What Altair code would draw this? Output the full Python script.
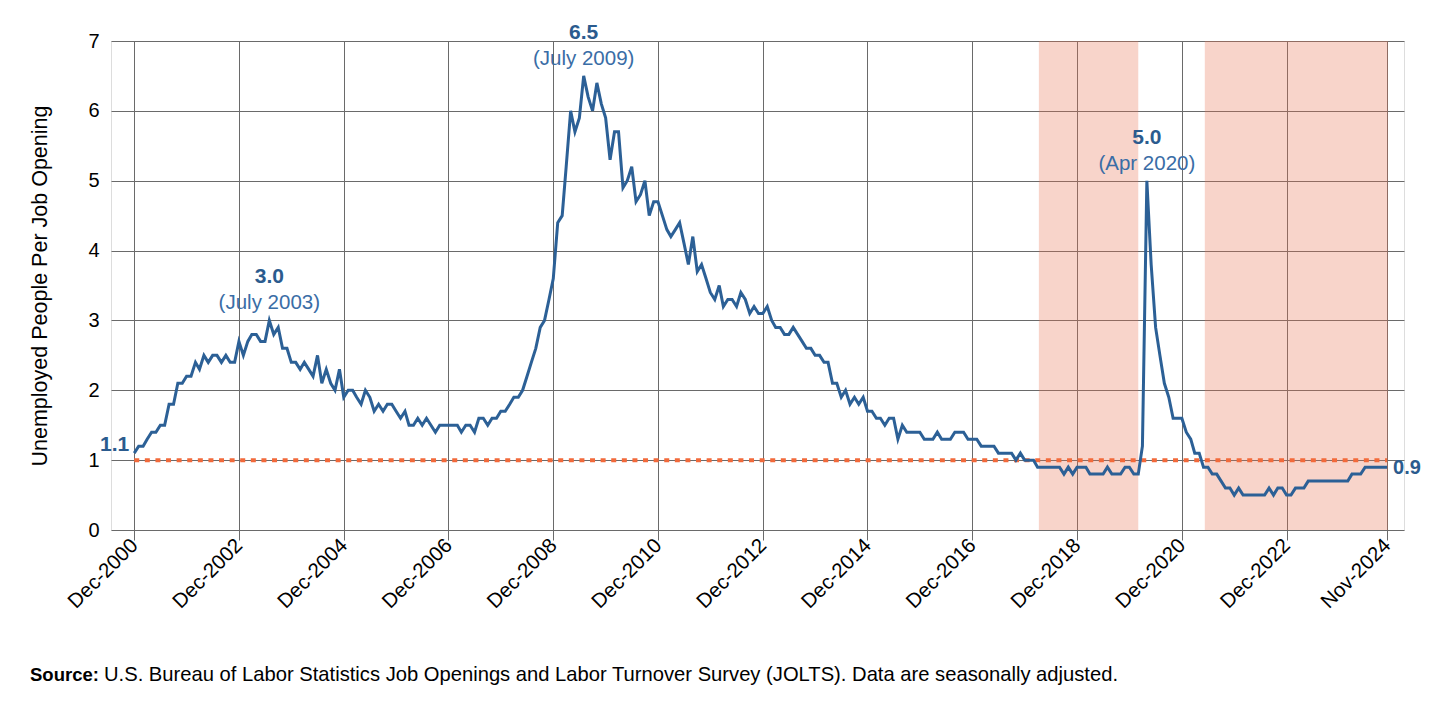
import altair as alt
import pandas as pd

# Monthly ratio, Dec-2000 .. Nov-2024 (unemployed people per job opening)
ratio = [
    1.1, 1.2, 1.2, 1.3, 1.4, 1.4, 1.5, 1.5, 1.8, 1.8, 2.1, 2.1,
    2.2, 2.2, 2.4, 2.3, 2.5, 2.4, 2.5, 2.5, 2.4, 2.5, 2.4, 2.4,
    2.7, 2.5, 2.7, 2.8, 2.8, 2.7, 2.7, 3.0, 2.8, 2.9, 2.6, 2.6,
    2.4, 2.4, 2.3, 2.4, 2.3, 2.2, 2.5, 2.1, 2.3, 2.1, 2.0, 2.3,
    1.9, 2.0, 2.0, 1.9, 1.8, 2.0, 1.9, 1.7, 1.8, 1.7, 1.8, 1.8,
    1.7, 1.6, 1.7, 1.5, 1.5, 1.6, 1.5, 1.6, 1.5, 1.4, 1.5, 1.5,
    1.5, 1.5, 1.5, 1.4, 1.5, 1.5, 1.4, 1.6, 1.6, 1.5, 1.6, 1.6,
    1.7, 1.7, 1.8, 1.9, 1.9, 2.0, 2.2, 2.4, 2.6, 2.9, 3.0, 3.3,
    3.6, 4.4, 4.5, 5.2, 6.0, 5.7, 5.9, 6.5, 6.2, 6.0, 6.4, 6.1,
    5.9, 5.3, 5.7, 5.7, 4.9, 5.0, 5.2, 4.7, 4.8, 5.0, 4.5, 4.7,
    4.7, 4.5, 4.3, 4.2, 4.3, 4.4, 4.1, 3.8, 4.2, 3.7, 3.8, 3.6,
    3.4, 3.3, 3.5, 3.2, 3.3, 3.3, 3.2, 3.4, 3.3, 3.1, 3.2, 3.1,
    3.1, 3.2, 3.0, 2.9, 2.9, 2.8, 2.8, 2.9, 2.8, 2.7, 2.6, 2.6,
    2.5, 2.5, 2.4, 2.4, 2.1, 2.1, 1.9, 2.0, 1.8, 1.9, 1.8, 1.9,
    1.7, 1.7, 1.6, 1.6, 1.5, 1.6, 1.6, 1.3, 1.5, 1.4, 1.4, 1.4,
    1.4, 1.3, 1.3, 1.3, 1.4, 1.3, 1.3, 1.3, 1.4, 1.4, 1.4, 1.3,
    1.3, 1.3, 1.2, 1.2, 1.2, 1.2, 1.1, 1.1, 1.1, 1.1, 1.0, 1.1,
    1.0, 1.0, 1.0, 0.9, 0.9, 0.9, 0.9, 0.9, 0.9, 0.8, 0.9, 0.8,
    0.9, 0.9, 0.9, 0.8, 0.8, 0.8, 0.8, 0.9, 0.8, 0.8, 0.8, 0.9,
    0.9, 0.8, 0.8, 1.2, 5.0, 3.8, 2.9, 2.5, 2.1, 1.9, 1.6, 1.6,
    1.6, 1.4, 1.3, 1.1, 1.1, 0.9, 0.9, 0.8, 0.8, 0.7, 0.6, 0.6,
    0.5, 0.6, 0.5, 0.5, 0.5, 0.5, 0.5, 0.5, 0.6, 0.5, 0.6, 0.6,
    0.5, 0.5, 0.6, 0.6, 0.6, 0.7, 0.7, 0.7, 0.7, 0.7, 0.7, 0.7,
    0.7, 0.7, 0.7, 0.8, 0.8, 0.8, 0.9, 0.9, 0.9, 0.9, 0.9, 0.9,
]
dates = pd.date_range("2000-12-01", periods=len(ratio), freq="MS").strftime("%Y-%m-%d").tolist()

tick_dates = ["2000-12-01", "2002-12-01", "2004-12-01", "2006-12-01", "2008-12-01",
              "2010-12-01", "2012-12-01", "2014-12-01", "2016-12-01", "2018-12-01",
              "2020-12-01", "2022-12-01", "2024-11-01"]

band_starts = ["2018-03-10", "2021-05-10"]
band_ends = ["2020-02-01", "2024-11-07"]

peak_dates = ["2003-07-01", "2009-07-01", "2020-04-01"]
peak_values = [3.0, 6.5, 5.0]
peak_numbers = ["3.0", "6.5", "5.0"]
peak_months = ["(July 2003)", "(July 2009)", "(Apr 2020)"]

end_dates = ["2000-12-01", "2024-11-01"]
end_values = [1.1, 0.9]
end_labels = ["1.1", "0.9"]

source_bold = "Source:"
source_text = ("U.S. Bureau of Labor Statistics Job Openings and Labor Turnover Survey (JOLTS). "
               "Data are seasonally adjusted.")

def ms(d):
    return int(pd.Timestamp(d, tz="UTC").timestamp() * 1000)

FONT = "Liberation Sans"
LINE = "#2C6096"
BOLD_BLUE = "#2B5B8E"
SUB_BLUE = "#3A6DA6"
ORANGE = "#F26A3B"
GRID = "#6A6A6A"

df = pd.DataFrame({"date": dates, "ratio": ratio})
bands = pd.DataFrame({"start": band_starts, "end": band_ends})
peaks = pd.DataFrame({"date": peak_dates, "value": peak_values,
                      "num": peak_numbers, "month": peak_months})
ref = pd.DataFrame({"start": [dates[0]], "end": [dates[-1]], "y": [1.0]})

xscale = alt.Scale(type="utc", domain=[ms("2000-06-22"), ms("2025-02-27")])
xaxis = alt.Axis(values=[ms(d) for d in tick_dates],
                 labelExpr="utcFormat(datum.value, '%b-%Y')",
                 grid=True, gridColor=GRID, gridWidth=1,
                 ticks=True, tickSize=10, tickColor=GRID, tickWidth=1,
                 domain=False, labelAngle=315, labelAlign="right", labelBaseline="middle",
                 labelPadding=2, labelFontSize=20.5, labelColor="#000000",
                 labelFont=FONT, title=None, labelOverlap=False)
yaxis = alt.Axis(values=[0, 1, 2, 3, 4, 5, 6, 7], format="d",
                 grid=True, gridColor=GRID, gridWidth=1,
                 ticks=False, domain=False, labelPadding=12, labelFontSize=20,
                 labelColor="#000000", labelFont=FONT,
                 title="Unemployed People Per Job Opening", titleFontSize=21.5,
                 titleFontWeight="normal", titleFont=FONT, titleColor="#000000",
                 titlePadding=36)
yscale = alt.Scale(domain=[0, 7], nice=False)

shade = alt.Chart(bands).mark_rect(color="#E8704F", opacity=0.3).encode(
    x=alt.X("start:T", scale=xscale, axis=xaxis),
    x2="end:T",
)

refline = alt.Chart(ref).mark_rule(color=ORANGE, strokeWidth=4, strokeDash=[5, 5.6]).encode(
    x=alt.X("start:T", scale=xscale, axis=xaxis),
    x2="end:T",
    y=alt.Y("y:Q", scale=yscale, axis=yaxis),
)

line = alt.Chart(df).mark_line(color=LINE, strokeWidth=3).encode(
    x=alt.X("date:T", scale=xscale, axis=xaxis),
    y=alt.Y("ratio:Q", scale=yscale, axis=yaxis),
)

peak_num = alt.Chart(peaks).mark_text(font=FONT, fontSize=21, fontWeight="bold",
                                      color=BOLD_BLUE, dy=-43, baseline="middle").encode(
    x="date:T", y="value:Q", text="num:N")
peak_mon = alt.Chart(peaks).mark_text(font=FONT, fontSize=20.5, color=SUB_BLUE,
                                      dy=-17, baseline="middle").encode(
    x="date:T", y="value:Q", text="month:N")

end_left = alt.Chart(pd.DataFrame({"date": [end_dates[0]], "value": [end_values[0]],
                                   "label": [end_labels[0]]})).mark_text(
    font=FONT, fontSize=21, fontWeight="bold", color=BOLD_BLUE, align="right",
    baseline="middle", dx=-5, dy=-8).encode(x="date:T", y="value:Q", text="label:N")
end_right = alt.Chart(pd.DataFrame({"date": [end_dates[1]], "value": [end_values[1]],
                                    "label": [end_labels[1]]})).mark_text(
    font=FONT, fontSize=20, fontWeight="bold", color=BOLD_BLUE, align="left",
    baseline="middle", dx=6, dy=1).encode(x="date:T", y="value:Q", text="label:N")

src_df = pd.DataFrame({"a": [source_bold], "b": [source_text]})
src_bold = alt.Chart(src_df).mark_text(font=FONT, fontSize=18.5, fontWeight="bold",
                                       align="left", baseline="middle", color="#000000").encode(
    x=alt.value(-81), y=alt.value(634), text="a:N")
src_reg = alt.Chart(src_df).mark_text(font=FONT, fontSize=20.2, align="left",
                                      baseline="middle", color="#000000").encode(
    x=alt.value(-7), y=alt.value(634), text="b:N")

chart = alt.layer(shade, refline, line, peak_num, peak_mon, end_left, end_right,
                  src_bold, src_reg).properties(
    width=1293, height=489,
    autosize=alt.AutoSizeParams(type="none"),
    padding={"left": 103, "top": 33, "right": 18, "bottom": 170},
).configure_view(stroke=None).configure(font=FONT)

chart.save("out.html", embed_options={"renderer": "svg", "actions": False})
